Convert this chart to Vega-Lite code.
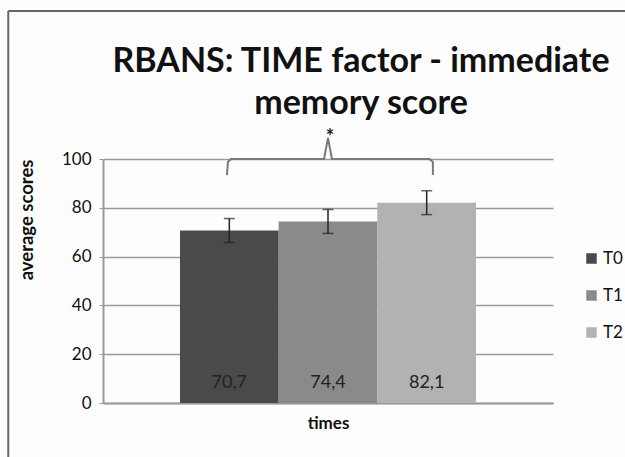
{
  "$schema": "https://vega.github.io/schema/vega-lite/v6.json",
  "width": 450,
  "height": 244,
  "autosize": {"type": "none"},
  "padding": {"left": 103, "top": 159, "right": 72, "bottom": 54},
  "background": "#fdfdfd",
  "config": {
    "locale": {"number": {"decimal": ",", "thousands": ".", "grouping": [3], "currency": ["", " €"]}},
    "view": {"stroke": null},
    "font": "Lato"
  },
  "title": {
    "text": ["RBANS: TIME factor - immediate", "memory score"],
    "font": "Lato",
    "fontSize": 34,
    "fontWeight": "bold",
    "color": "#111111",
    "anchor": "middle",
    "dx": 33,
    "offset": -145,
    "lineHeight": 42,
    "baseline": "bottom"
  },
  "datasets": {
    "bars": [
      {"time": "T0", "mean": 70.7, "lo": 65.8, "hi": 75.6},
      {"time": "T1", "mean": 74.4, "lo": 69.5, "hi": 79.3},
      {"time": "T2", "mean": 82.1, "lo": 77.2, "hi": 87.0}
    ],
    "bracket": [
      {"i": 1, "x": 1.256, "y": 93.4},
      {"i": 2, "x": 1.266, "y": 98.8},
      {"i": 3, "x": 1.296, "y": 100},
      {"i": 4, "x": 2.24, "y": 100},
      {"i": 5, "x": 2.28, "y": 108.6},
      {"i": 6, "x": 2.32, "y": 100},
      {"i": 7, "x": 3.31, "y": 100},
      {"i": 8, "x": 3.343, "y": 98.8},
      {"i": 9, "x": 3.343, "y": 93.4}
    ],
    "star": [{"x": 2.3, "y": 112, "t": "*"}]
  },
  "resolve": {"scale": {"x": "independent"}},
  "layer": [
    {
      "data": {"name": "bars"},
      "layer": [
        {
          "mark": {"type": "bar", "strokeWidth": 0},
          "encoding": {
            "x": {
              "field": "time", "type": "nominal",
              "scale": {"paddingInner": 0, "paddingOuter": 0.78},
              "axis": {"title": "times", "labels": false, "ticks": false, "titleFontSize": 17, "titleFontWeight": "bold", "titleColor": "#111111", "titlePadding": 12, "domainColor": "#9a9a9a", "domainWidth": 2}
            },
            "y": {
              "field": "mean", "type": "quantitative",
              "scale": {"domain": [0, 100]},
              "axis": {
                "title": "average scores", "titleAnchor": "end", "titleFontSize": 18.5, "titleFontWeight": "bold", "titleColor": "#111111", "titlePadding": 25,
                "values": [0, 20, 40, 60, 80, 100], "labelFontSize": 17, "labelColor": "#111111", "labelPadding": 8,
                "grid": true, "gridColor": "#9a9a9a", "gridWidth": 1.5,
                "domainColor": "#9a9a9a", "domainWidth": 2, "tickColor": "#9a9a9a", "tickSize": 4
              }
            },
            "color": {
              "field": "time", "type": "nominal",
              "scale": {"domain": ["T0", "T1", "T2"], "range": ["#4a4a4a", "#8a8a8a", "#b2b2b2"]},
              "legend": {
                "orient": "none", "legendX": 480, "legendY": 91, "title": null,
                "symbolType": "square", "symbolSize": 110, "symbolStrokeWidth": 0,
                "labelFontSize": 17, "labelColor": "#111111", "rowPadding": 19, "labelOffset": 3
              }
            }
          }
        },
        {
          "mark": {"type": "rule", "color": "#222222", "strokeWidth": 1.5},
          "encoding": {
            "x": {"field": "time", "type": "nominal"},
            "y": {"field": "lo", "type": "quantitative", "scale": {"domain": [0, 100]}},
            "y2": {"field": "hi"}
          }
        },
        {
          "mark": {"type": "tick", "color": "#222222", "size": 11, "thickness": 1.5},
          "encoding": {
            "x": {"field": "time", "type": "nominal"},
            "y": {"field": "lo", "type": "quantitative", "scale": {"domain": [0, 100]}}
          }
        },
        {
          "mark": {"type": "tick", "color": "#222222", "size": 11, "thickness": 1.5},
          "encoding": {
            "x": {"field": "time", "type": "nominal"},
            "y": {"field": "hi", "type": "quantitative", "scale": {"domain": [0, 100]}}
          }
        },
        {
          "mark": {"type": "text", "fontSize": 18, "color": "#222222", "baseline": "middle"},
          "encoding": {
            "x": {"field": "time", "type": "nominal"},
            "y": {"datum": 8, "type": "quantitative", "scale": {"domain": [0, 100]}},
            "text": {"field": "mean", "type": "quantitative", "format": ".1f"}
          }
        }
      ]
    },
    {
      "layer": [
        {
          "data": {"name": "bracket"},
          "mark": {"type": "line", "color": "#7a7a7a", "strokeWidth": 2},
          "encoding": {
            "x": {"field": "x", "type": "quantitative", "scale": {"domain": [0, 4.56], "nice": false, "zero": false}, "axis": null},
            "y": {"field": "y", "type": "quantitative", "scale": {"domain": [0, 100]}},
            "order": {"field": "i"}
          }
        },
        {
          "data": {"name": "star"},
          "mark": {"type": "text", "fontSize": 20, "fontWeight": "bold", "color": "#222222", "baseline": "middle", "dy": 8},
          "encoding": {
            "x": {"field": "x", "type": "quantitative"},
            "y": {"field": "y", "type": "quantitative", "scale": {"domain": [0, 100]}},
            "text": {"field": "t"}
          }
        },
        {
          "data": {"values": [{}]},
          "mark": {"type": "rule", "color": "#666666", "strokeWidth": 2},
          "encoding": {
            "x": {"datum": -0.96, "type": "quantitative"},
            "y": {"datum": -22.1, "type": "quantitative", "scale": {"domain": [0, 100]}},
            "y2": {"datum": 160.7}
          }
        },
        {
          "data": {"values": [{}]},
          "mark": {"type": "rule", "color": "#666666", "strokeWidth": 2},
          "encoding": {
            "x": {"datum": -0.96, "type": "quantitative"},
            "x2": {"datum": 5.3},
            "y": {"datum": 160.7, "type": "quantitative", "scale": {"domain": [0, 100]}}
          }
        }
      ]
    }
  ]
}
